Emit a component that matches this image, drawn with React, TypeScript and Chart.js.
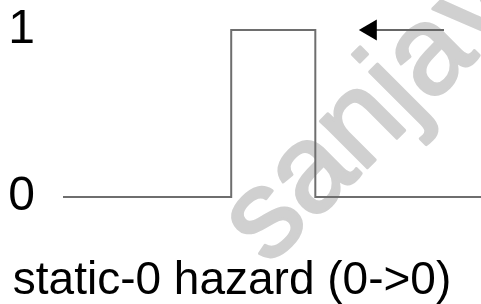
import React, { useEffect, useRef } from "react";
import { Chart, registerables } from "chart.js";

Chart.register(...registerables);

// Signal: time points and logic levels (step waveform)
const signalTimes = [0, 2, 2, 3, 3, 4.97];
const signalLevels = [0, 0, 1, 1, 0, 0];
// Arrow along the high level, pointing back in time
const arrowTimes = [3.66, 4.53];
const arrowLevels = [1, 1];
const yTickLabels = ["0", "1"];
const titleText = "static-0 hazard (0->0)";
const watermarkText = "sanjay";

const FONT = "'Liberation Sans', Arial, sans-serif";

const watermarkPlugin = {
  id: "watermark",
  beforeDatasetsDraw(chart: any) {
    const ctx = chart.ctx;
    ctx.save();
    ctx.translate(268, 267);
    ctx.rotate((-45 * Math.PI) / 180);
    ctx.font = `125px ${FONT}`;
    ctx.fillStyle = "#d0d0d0";
    ctx.strokeStyle = "#d0d0d0";
    ctx.lineWidth = 3;
    ctx.lineJoin = "round";
    ctx.textBaseline = "alphabetic";
    ctx.textAlign = "left";
    ctx.fillText(watermarkText, 0, 0);
    ctx.strokeText(watermarkText, 0, 0);
    ctx.restore();
  },
};

export default function App() {
  const ref = useRef<HTMLCanvasElement | null>(null);
  useEffect(() => {
    document.body.style.margin = "0";
    const canvas = ref.current;
    if (!canvas) return;
    const chart = new Chart(canvas, {
      type: "line",
      data: {
        datasets: [
          {
            data: signalTimes.map((t, i) => ({ x: t, y: signalLevels[i] })),
            borderColor: "#6e6e6e",
            borderWidth: 2,
            pointRadius: 0,
            fill: false,
            tension: 0,
            clip: false as any,
          },
          {
            data: arrowTimes.map((t, i) => ({ x: t, y: arrowLevels[i] })),
            borderColor: "#666666",
            borderWidth: 2,
            pointRadius: [12, 0],
            pointStyle: "triangle",
            rotation: -90,
            pointBackgroundColor: "#000000",
            pointBorderColor: "#000000",
            pointBorderWidth: 0,
            fill: false,
            clip: false as any,
          },
        ],
      },
      options: {
        animation: false,
        responsive: true,
        maintainAspectRatio: false,
        events: [],
        layout: { autoPadding: false, padding: { left: -17, top: 30, right: 0, bottom: 0 } },
        plugins: {
          legend: { display: false },
          tooltip: { enabled: false },
          title: {
            display: true,
            text: titleText,
            position: "bottom",
            color: "#000000",
            font: { family: FONT, size: 46, weight: "normal", lineHeight: 1 },
            padding: { top: 61, bottom: 0 },
          },
        },
        scales: {
          x: {
            type: "linear",
            min: 0,
            max: 4.97,
            display: false,
          },
          y: {
            type: "linear",
            min: 0,
            max: 1,
            grid: { display: false, drawTicks: false },
            border: { display: false },
            ticks: {
              stepSize: 1,
              color: "#000000",
              padding: 28,
              crossAlign: "near",
              font: { family: FONT, size: 48, lineHeight: 1 },
              callback: (v: any) => yTickLabels[Number(v)] ?? "",
            },
            afterFit: (scale: any) => {
              scale.width = 80;
              scale.paddingTop = 0;
              scale.paddingBottom = 0;
            },
          },
        },
      },
      plugins: [watermarkPlugin],
    });
    return () => chart.destroy();
  }, []);
  return (
    <div style={{ width: 481, height: 304, position: "relative" }}>
      <canvas ref={ref} />
    </div>
  );
}
